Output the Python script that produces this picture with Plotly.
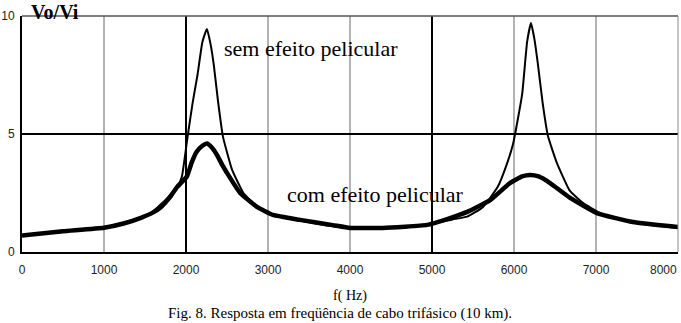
import plotly.graph_objects as go

# Frequency (Hz) and |Vo/Vi| without skin effect (thin line)
f_sem = [0, 500, 1000, 1350, 1550, 1750, 1900, 1950, 2020, 2080, 2140, 2200, 2255,
         2300, 2340, 2390, 2450, 2560, 2700, 2870, 3020, 3400, 3800, 4200, 4600,
         5000, 5250, 5430, 5620, 5800, 5920, 5990, 6040, 6100, 6160, 6207, 6250,
         6290, 6350, 6415, 6520, 6680, 6840, 7050, 7450, 8000]
v_sem = [0.70, 0.88, 1.05, 1.36, 1.60, 2.20, 2.80, 3.20, 4.90, 6.30, 7.50, 8.90, 9.45,
         8.80, 7.90, 6.40, 4.90, 3.50, 2.50, 1.90, 1.60, 1.32, 1.08, 1.00, 1.05,
         1.20, 1.38, 1.50, 1.90, 2.75, 3.80, 4.60, 5.50, 6.70, 8.90, 9.70, 9.00,
         8.00, 6.30, 4.90, 3.80, 2.60, 2.08, 1.65, 1.25, 1.02]

# Frequency (Hz) and |Vo/Vi| with skin effect (thick line)
f_com = [0, 500, 1000, 1250, 1450, 1600, 1700, 1800, 1890, 2010, 2070, 2130, 2200, 2255, 2310,
         2380, 2440, 2500, 2660, 2870, 3060, 3390, 3790, 4000, 4400, 4940, 5220,
         5430, 5710, 5950, 6100, 6195, 6300, 6440, 6680, 7010, 7450, 8000]
v_com = [0.70, 0.88, 1.03, 1.22, 1.45, 1.68, 1.92, 2.30, 2.75, 3.20, 3.80, 4.25, 4.50, 4.60, 4.45,
         4.10, 3.70, 3.35, 2.50, 1.90, 1.57, 1.36, 1.14, 1.02, 1.02, 1.15, 1.44,
         1.70, 2.20, 2.92, 3.20, 3.26, 3.20, 2.92, 2.30, 1.65, 1.27, 1.06]

x_ticks = [0, 1000, 2000, 3000, 4000, 5000, 6000, 7000]
x_last_tick = 8000
y_ticks = [0, 5, 10]
dark_vlines = [2000, 5000]
light_vlines = [1000, 3000, 4000, 6000, 7000]

fig = go.Figure()
fig.add_trace(go.Scatter(x=f_com, y=v_com, mode="lines",
                         line=dict(color="black", width=4.5, shape="spline", smoothing=0.4),
                         showlegend=False, hoverinfo="skip"))
fig.add_trace(go.Scatter(x=f_sem, y=v_sem, mode="lines",
                         line=dict(color="black", width=2, shape="spline", smoothing=0.4),
                         showlegend=False, hoverinfo="skip"))

shapes = []
for xv in light_vlines:
    shapes.append(dict(type="line", xref="x", yref="y", x0=xv, x1=xv, y0=0, y1=10,
                       line=dict(color="#666666", width=1), layer="below"))
for xv in dark_vlines:
    shapes.append(dict(type="line", xref="x", yref="y", x0=xv, x1=xv, y0=0, y1=10,
                       line=dict(color="black", width=2), layer="below"))
shapes.append(dict(type="line", xref="x", yref="y", x0=0, x1=8000, y0=5, y1=5,
                   line=dict(color="black", width=2), layer="below"))
# top and right border
shapes.append(dict(type="line", xref="paper", yref="paper", x0=0, x1=1, y0=1, y1=1,
                   line=dict(color="#555555", width=1.5)))
shapes.append(dict(type="line", xref="paper", yref="paper", x0=1, x1=1, y0=0, y1=1,
                   line=dict(color="#888888", width=1)))

tick_font = dict(family="Liberation Sans Narrow, Liberation Sans, Arial", size=12, color="#222")

fig.update_layout(
    width=681, height=323,
    margin=dict(l=22, r=3, t=16, b=71),
    paper_bgcolor="white", plot_bgcolor="white",
    shapes=shapes,
    xaxis=dict(range=[0, 8000], tickvals=x_ticks, ticktext=[str(t) for t in x_ticks],
               automargin=False,
               showgrid=False, zeroline=False, showline=True, linecolor="black",
               linewidth=2, ticks="outside", ticklen=6, tickcolor="white",
               tickfont=tick_font,
               title=dict(text="f( Hz)", font=dict(family="Liberation Serif", size=14,
                                                   color="black"), standoff=14)),
    yaxis=dict(range=[0, 10], tickvals=y_ticks, ticktext=[str(t) for t in y_ticks],
               automargin=False,
               showgrid=False, zeroline=False, showline=True, linecolor="black",
               linewidth=2, ticks="outside", ticklen=3, tickcolor="white",
               tickfont=tick_font),
    annotations=[
        dict(text=str(x_last_tick), xref="x", yref="paper", x=x_last_tick, y=0,
             xanchor="right", yanchor="top", yshift=-9, xshift=1, showarrow=False,
             font=tick_font),
        dict(text="<b>Vo/Vi</b>", xref="paper", yref="paper", x=0.011, y=1.0,
             xanchor="left", yanchor="bottom", yshift=-9, showarrow=False,
             font=dict(family="Liberation Serif", size=20, color="black")),
        dict(text="sem efeito pelicular", xref="x", yref="y", x=3524, y=8.64,
             showarrow=False, font=dict(family="Liberation Serif", size=22, color="black")),
        dict(text="com efeito pelicular", xref="x", yref="y", x=4317, y=2.42,
             showarrow=False, font=dict(family="Liberation Serif", size=22, color="black")),
        dict(text="Fig. 8. Resposta em freqüência de cabo trifásico (10 km).",
             xref="paper", yref="paper", x=0.485, y=0, yanchor="middle",
             yshift=-61, showarrow=False,
             font=dict(family="Liberation Serif", size=15, color="black")),
    ],
)

fig.write_html("out.html", config={"displayModeBar": False},
               post_script="document.body.style.margin='0';")
